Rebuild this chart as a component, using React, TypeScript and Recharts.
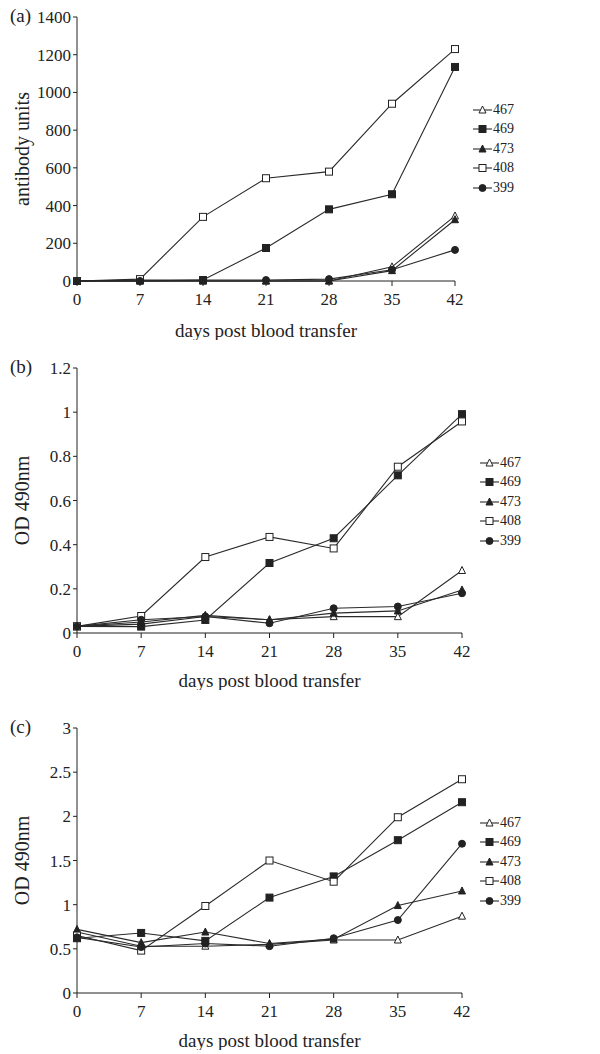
import React from 'react';
import { LineChart, Line, XAxis, YAxis, Legend } from 'recharts';

const DAYS = [0, 7, 14, 21, 28, 35, 42];
const SERIES = ['467', '469', '473', '408', '399'];

// (a) antibody units
const A_467 = [0, 0, 0, 0, 0, 75, 345];
const A_469 = [0, 5, 5, 175, 380, 460, 1135];
const A_473 = [0, 0, 0, 0, 0, 55, 325];
const A_408 = [0, 10, 340, 545, 580, 940, 1230];
const A_399 = [0, 0, 5, 5, 10, 60, 165];
const A_TICKS = [0, 200, 400, 600, 800, 1000, 1200, 1400];

// (b) OD 490nm
const B_467 = [0.03, 0.04, 0.075, 0.06, 0.074, 0.074, 0.283];
const B_469 = [0.03, 0.029, 0.059, 0.317, 0.429, 0.714, 0.991];
const B_473 = [0.03, 0.05, 0.08, 0.06, 0.09, 0.1, 0.195];
const B_408 = [0.03, 0.077, 0.344, 0.435, 0.383, 0.753, 0.958];
const B_399 = [0.03, 0.06, 0.075, 0.044, 0.112, 0.12, 0.18];
const B_TICKS = [0, 0.2, 0.4, 0.6, 0.8, 1, 1.2];

// (c) OD 490nm
const C_467 = [0.69, 0.53, 0.53, 0.55, 0.6, 0.6, 0.87];
const C_469 = [0.62, 0.68, 0.59, 1.08, 1.32, 1.73, 2.16];
const C_473 = [0.72, 0.57, 0.69, 0.56, 0.61, 0.99, 1.155];
const C_408 = [0.65, 0.48, 0.985, 1.5, 1.26, 1.99, 2.42];
const C_399 = [0.63, 0.52, 0.56, 0.53, 0.62, 0.826, 1.69];
const C_TICKS = [0, 0.5, 1, 1.5, 2, 2.5, 3];

const INK = '#222';
const LINE = '#2a2a2a';
const FONT = '"Liberation Serif", "Times New Roman", serif';

const SHAPES: Record<string, string> = {
  '467': 'triOpen',
  '469': 'squareFill',
  '473': 'triFill',
  '408': 'squareOpen',
  '399': 'circle',
};

const rows = (vals: number[][]) =>
  DAYS.map((day, i) => {
    const r: Record<string, number> = { day };
    SERIES.forEach((s, k) => (r[s] = vals[k][i]));
    return r;
  });

const Marker = ({ shape, cx, cy, s = 7 }: { shape: string; cx: number; cy: number; s?: number }) => {
  const h = s / 2;
  if (shape === 'triOpen' || shape === 'triFill') {
    const pts = `${cx},${cy - h - 0.5} ${cx - h},${cy + h - 0.5} ${cx + h},${cy + h - 0.5}`;
    return <polygon points={pts} fill={shape === 'triFill' ? INK : '#fff'} stroke={INK} strokeWidth={1} />;
  }
  if (shape === 'squareOpen' || shape === 'squareFill') {
    return (
      <rect x={cx - h} y={cy - h} width={s} height={s}
        fill={shape === 'squareFill' ? INK : '#fff'} stroke={INK} strokeWidth={1} />
    );
  }
  return <circle cx={cx} cy={cy} r={h} fill={INK} stroke={INK} strokeWidth={1} />;
};

// keep the original legend order, not alphabetical
const LegendBox = ({ payload }: any) => {
  const items = [...(payload || [])].sort(
    (a: any, b: any) => SERIES.indexOf(String(a.value)) - SERIES.indexOf(String(b.value)),
  );
  return (
    <div style={{ fontFamily: FONT, fontSize: 14, color: INK }}>
      {items.map((p: any) => (
        <div key={p.value} style={{ display: 'flex', alignItems: 'center', height: 19.5 }}>
          <svg width={19} height={12} style={{ marginRight: 1 }}>
            <line x1={0} y1={6} x2={19} y2={6} stroke={LINE} strokeWidth={1.1} />
            <Marker shape={SHAPES[p.value]} cx={9.5} cy={6} s={7} />
          </svg>
          <span>{p.value}</span>
        </div>
      ))}
    </div>
  );
};

type PanelProps = {
  tag: string;
  data: Record<string, number>[];
  ticks: number[];
  yLabel: string;
  height: number;
  plotTop: number;
  plotBottom: number;
  right: number;
  legendLeft: number;
  legendTop: number;
};

const Panel = ({ tag, data, ticks, yLabel, height, plotTop, plotBottom, right, legendLeft, legendTop }: PanelProps) => (
  <div style={{ position: 'relative', width: 600, height }}>
    <div style={{ position: 'absolute', left: 10, top: plotTop - 12, fontFamily: FONT, fontSize: 19, color: INK }}>
      {tag}
    </div>
    <LineChart width={600} height={height} data={data}
      margin={{ top: plotTop, right, left: 0, bottom: 0 }}
      style={{ fontFamily: FONT }}>
      <XAxis dataKey="day" type="number" domain={[0, 42]} ticks={DAYS}
        stroke={INK} tickSize={5} tickMargin={7}
        tick={{ fill: INK, fontSize: 17 }}
        height={height - plotBottom}
        label={{ value: 'days post blood transfer', position: 'insideBottom', offset: 3, fill: INK, fontSize: 19 }} />
      <YAxis type="number" domain={[ticks[0], ticks[ticks.length - 1]]} ticks={ticks}
        width={77} stroke={INK} tickSize={4} tickMargin={2}
        tick={{ fill: INK, fontSize: 17 }}
        label={{ value: yLabel, angle: -90, position: 'center', dx: -17, fill: INK, fontSize: 20 }} />
      <Legend layout="vertical" align="center" verticalAlign="middle" width={80}
        wrapperStyle={{ left: legendLeft, top: legendTop }}
        content={<LegendBox />} />
      {SERIES.map((s) => (
        <Line key={s} dataKey={s} name={s} stroke={LINE} strokeWidth={1.1}
          isAnimationActive={false}
          dot={(p: any) => <Marker key={`${s}-${p.index}`} shape={SHAPES[s]} cx={p.cx} cy={p.cy} />}
          activeDot={false} />
      ))}
    </LineChart>
  </div>
);

export default function App() {
  return (
    <div style={{ position: 'absolute', left: 0, top: 0, width: 600, background: '#fff' }}>
      <Panel tag="(a)" data={rows([A_467, A_469, A_473, A_408, A_399])} ticks={A_TICKS}
        yLabel="antibody units" height={340} plotTop={17} plotBottom={281} right={145}
        legendLeft={473} legendTop={100} />
      <Panel tag="(b)" data={rows([B_467, B_469, B_473, B_408, B_399])} ticks={B_TICKS}
        yLabel="OD 490nm" height={350} plotTop={28} plotBottom={293} right={138}
        legendLeft={480} legendTop={113} />
      <Panel tag="(c)" data={rows([C_467, C_469, C_473, C_408, C_399])} ticks={C_TICKS}
        yLabel="OD 490nm" height={360} plotTop={38} plotBottom={303} right={138}
        legendLeft={480} legendTop={123} />
    </div>
  );
}
